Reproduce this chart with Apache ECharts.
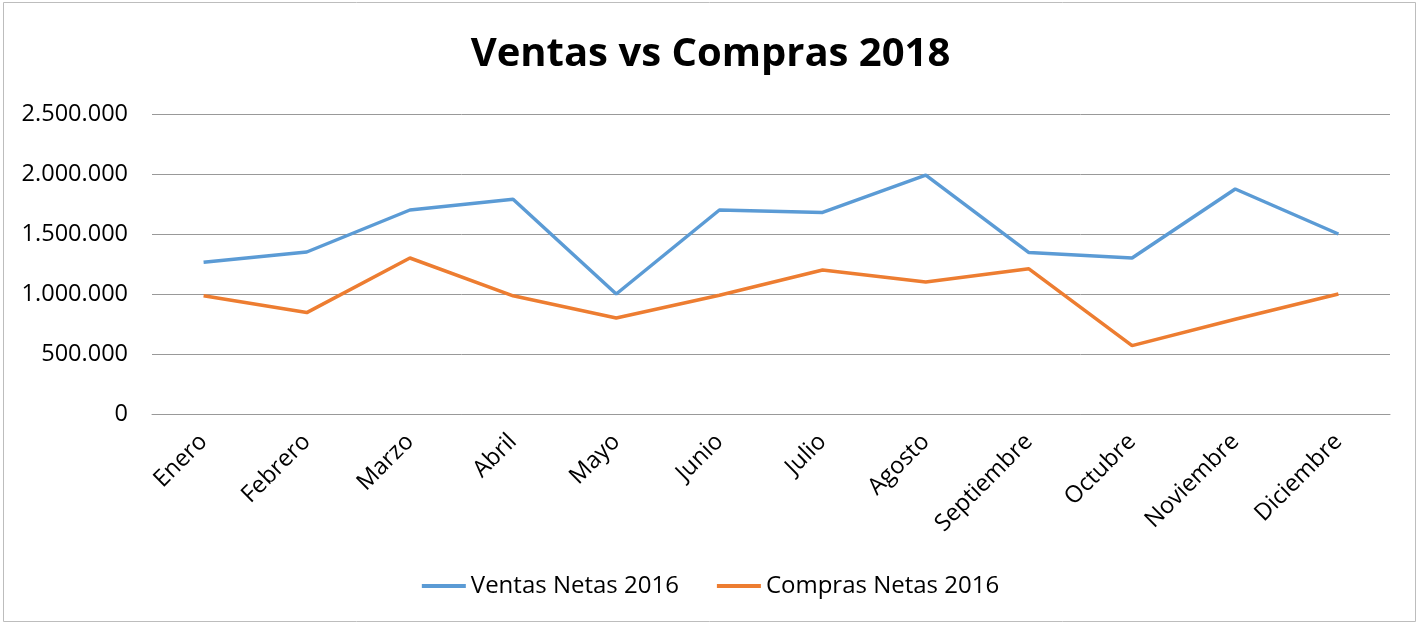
<!DOCTYPE html>
<html><head><meta charset="utf-8">
<script src="https://cdn.jsdelivr.net/npm/echarts@6/dist/echarts.min.js"></script>
<style>html,body{margin:0;padding:0;background:#fff}#c{width:1421px;height:626px}</style>
</head><body><div id="c"></div>
<script>
const categories = ['Enero','Febrero','Marzo','Abril','Mayo','Junio','Julio','Agosto','Septiembre','Octubre','Noviembre','Diciembre'];
const ventas = [1265000,1350000,1700000,1790000,1000000,1700000,1680000,1990000,1345000,1300000,1875000,1500000];
const compras = [985000,845000,1300000,985000,800000,990000,1200000,1100000,1210000,570000,790000,1000000];
const seriesNames = ['Ventas Netas 2016','Compras Netas 2016'];
const titleText = 'Ventas vs Compras 2018';
const FONT = '"Open Sans", sans-serif';
const chart = echarts.init(document.getElementById('c'));
const fmt = v => String(v).replace(/\B(?=(\d{3})+(?!\d))/g, '.');
chart.setOption({
  animation: false,
  backgroundColor: '#fff',
  title: { text: titleText, left: 'center', top: 30, textStyle: { fontFamily: FONT, fontWeight: 'bold', fontSize: 40, color: '#000' } },
  grid: { left: 152, right: 31, top: 114, bottom: 212, containLabel: false },
  legend: { bottom: 23, left: 'center', itemWidth: 44, itemHeight: 4, itemGap: 38, icon: 'rect',
    textStyle: { fontFamily: FONT, fontSize: 24, color: '#000' }, data: seriesNames },
  xAxis: { type: 'category', data: categories, boundaryGap: true,
    axisLine: { lineStyle: { color: '#999', width: 1 } }, axisTick: { show: false },
    axisLabel: { rotate: 45, fontFamily: FONT, fontSize: 23.5, color: '#000', margin: 24, interval: 0 } },
  yAxis: { type: 'value', min: 0, max: 2500000, interval: 500000,
    axisLine: { show: false }, axisTick: { show: false },
    splitLine: { lineStyle: { color: '#999', width: 1 } },
    axisLabel: { fontFamily: FONT, fontSize: 23.5, color: '#000', margin: 24, formatter: fmt } },
  series: [
    { name: seriesNames[0], type: 'line', data: ventas, symbol: 'none', lineStyle: { width: 3.5, color: '#5B9BD5' }, itemStyle: { color: '#5B9BD5' } },
    { name: seriesNames[1], type: 'line', data: compras, symbol: 'none', lineStyle: { width: 3.5, color: '#ED7D31' }, itemStyle: { color: '#ED7D31' } }
  ],
  graphic: [{ type: 'rect', shape: { x: 3.5, y: 2.5, width: 1412, height: 619 }, style: { fill: 'none', stroke: '#bdbdbd', lineWidth: 1 }, silent: true }]
});
</script></body></html>
